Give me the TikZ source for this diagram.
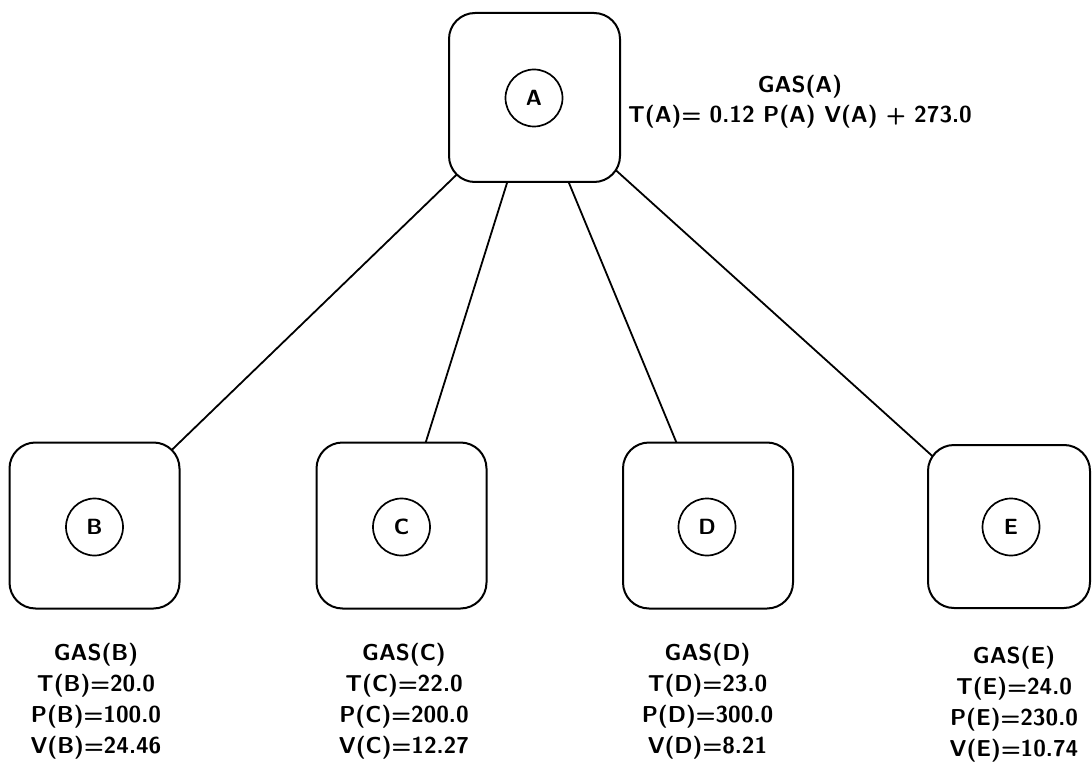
\documentclass[tikz,border=0pt]{standalone}
\usetikzlibrary{backgrounds}
\begin{document}
\begin{tikzpicture}[x=1pt,y=-1pt,
  gasbox/.style={draw, line width=2pt, rounded corners=26pt, fill=white,
    minimum width=170pt, minimum height=166pt, inner sep=0pt},
  gascirc/.style={draw, circle, line width=1.7pt, minimum size=57pt, inner sep=0pt,
    font=\sffamily\bfseries\fontsize{22}{30}\selectfont},
  gaslabel/.style={align=center, inner sep=0pt, font=\sffamily\bfseries\fontsize{23}{31}\selectfont},
  link/.style={line width=1.8pt, shorten <=-40pt, shorten >=-40pt}]
\useasboundingbox (0,0) rectangle (1092,762);
% boxes
\node[gasbox, minimum width=171pt, minimum height=169pt] (A) at (534.5,97.5) {};
\node[gasbox] (B) at (94.5,525.5) {};
\node[gasbox] (C) at (401.5,525.5) {};
\node[gasbox] (D) at (708,525.5) {};
\node[gasbox, minimum width=162pt, minimum height=163pt] (E) at (1009,526.5) {};
% circles
\node[gascirc] (cA) at (534,98) {A};
\node[gascirc] (cB) at (94.5,527) {B};
\node[gascirc] (cC) at (401.5,527) {C};
\node[gascirc] (cD) at (707,527) {D};
\node[gascirc] (cE) at (1011,527) {E};
% labels
\node[gaslabel, font=\sffamily\bfseries\fontsize{23}{30}\selectfont] (lA) at (800,101.5) {GAS(A)\\T(A)= 0.12 P(A) V(A) + 273.0};
\node[gaslabel] (lB) at (96,701) {GAS(B)\\T(B)=20.0\\P(B)=100.0\\V(B)=24.46};
\node[gaslabel] (lC) at (404,701) {GAS(C)\\T(C)=22.0\\P(C)=200.0\\V(C)=12.27};
\node[gaslabel] (lD) at (707.5,701) {GAS(D)\\T(D)=23.0\\P(D)=300.0\\V(D)=8.21};
\node[gaslabel] (lE) at (1014,704) {GAS(E)\\T(E)=24.0\\P(E)=230.0\\V(E)=10.74};
% connectors
\begin{scope}[on background layer]
\draw[link] (A.south west) -- (B.north east);
\draw[link] ([xshift=-27.5pt]A.south) -- ([xshift=24.5pt]C.north);
\draw[link] ([xshift=34.5pt]A.south) -- ([xshift=-32pt]D.north);
\draw[link] ([xshift=9pt]A.south east) -- ([xshift=-8pt]E.north west);
\end{scope}
\end{tikzpicture}
\end{document}
